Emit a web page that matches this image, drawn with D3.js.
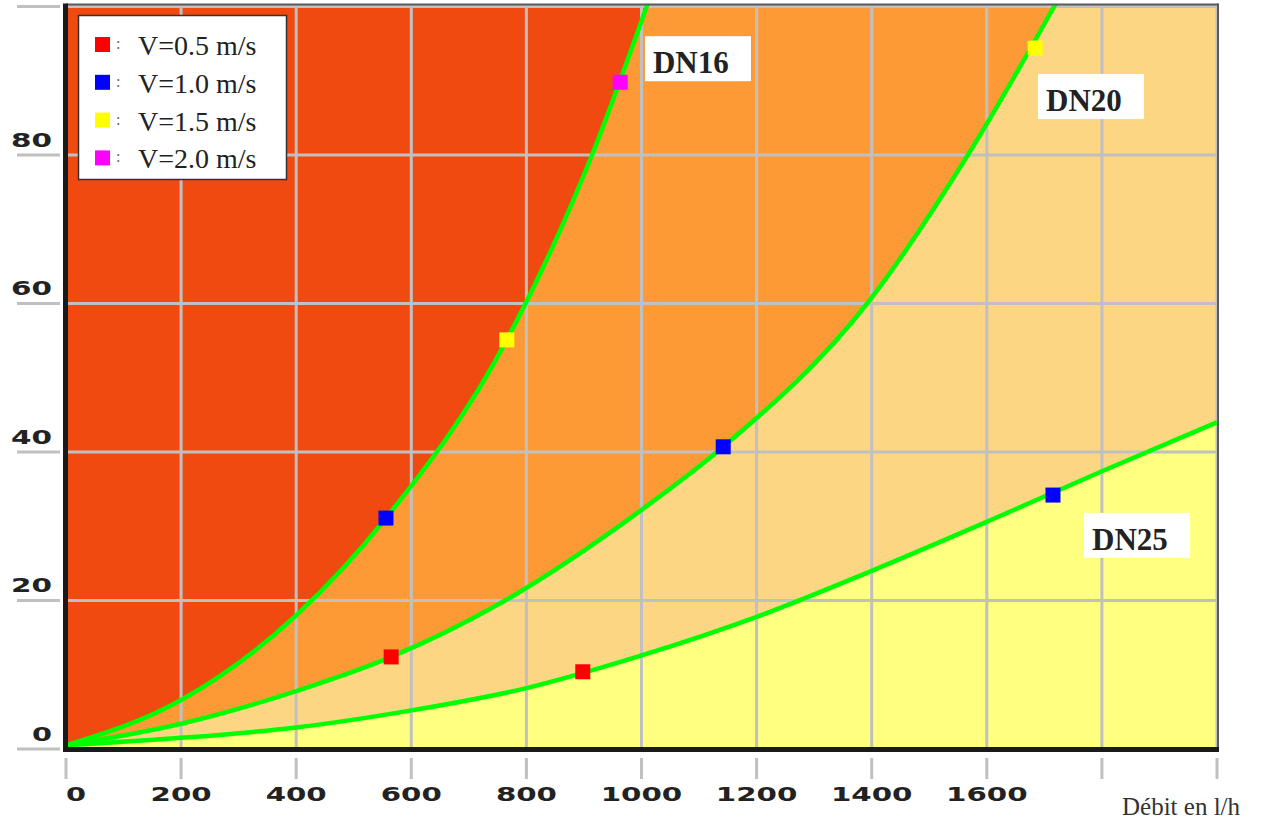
<!DOCTYPE html>
<html>
<head>
<meta charset="utf-8">
<script src="https://cdn.jsdelivr.net/npm/d3@7"></script>
<style>
  html, body { margin: 0; padding: 0; background: #ffffff; }
  svg { display: block; }
</style>
</head>
<body>
<svg id="chart" width="1261" height="825"></svg>
<script>
// ---------------- DATA ----------------
// Flow rate (l/h) and pressure drop readings along each pipe curve
const dn16Flow = [0, 200, 400, 556, 766, 914, 1009, 1020];
const dn16Drop = [0.5, 6.6, 18.0, 31.1, 55.1, 80, 100, 102.4];

const dn20Flow = [0, 200, 400, 565, 763, 1000, 1142, 1392, 1567, 1717, 1730];
const dn20Drop = [0.5, 3.4, 7.8, 12.4, 20, 32.2, 40.7, 60, 80, 100, 101.8];

const dn25Flow = [0, 200, 400, 600, 800, 1000, 1200, 1400, 1600, 1800, 2000];
const dn25Drop = [0.5, 1.5, 2.9, 5.2, 8.2, 12.6, 17.8, 24.0, 30.6, 37.4, 44.0];

const pipeNames = ["DN16", "DN20", "DN25"];

// Velocity legend
const velocityLabels = ["V=0.5 m/s", "V=1.0 m/s", "V=1.5 m/s", "V=2.0 m/s"];

// Velocity markers (velocity label, flow l/h, pressure drop)
const markerVelocity = ["V=0.5 m/s", "V=0.5 m/s", "V=1.0 m/s", "V=1.0 m/s", "V=1.0 m/s", "V=1.5 m/s", "V=1.5 m/s", "V=2.0 m/s"];
const markerFlow     = [565, 898, 556, 1142, 1715, 766, 1684, 963];
const markerDrop     = [12.4, 10.4, 31.1, 40.7, 34.2, 55.1, 94.4, 89.8];

// Axis ticks
const xTickValues = [0, 200, 400, 600, 800, 1000, 1200, 1400, 1600, 1800, 2000];
const xTickLabels = ["0", "200", "400", "600", "800", "1000", "1200", "1400", "1600", "", ""];
const yTickValues = [0, 20, 40, 60, 80, 100];
const yTickLabels = ["0", "20", "40", "60", "80", ""];
const xAxisTitle = "Débit en l/h";

// ---------------- STYLES ----------------
const velocityColors = ["#ff0000", "#0000ff", "#ffff00", "#ff00ff"];
const zoneColors = { above16: "#f04a10", above20: "#fd9a36", above25: "#fdd684", below25: "#ffff80" };
const gridColor = "#c0c0c0";
const curveColor = "#00ff00";

// ---------------- CHART ----------------
const svg = d3.select("#chart");
const x = d3.scaleLinear().domain([0, 2000]).range([66, 1217]);
const y = d3.scaleLinear().domain([0, 100]).range([749, 6.5]);
const colorV = d3.scaleOrdinal().domain(velocityLabels).range(velocityColors);

const plotLeft = x(0), plotRight = x(2000), plotTop = 5, plotBottom = 747;

const zip = (a, b) => a.map((v, i) => [v, b[i]]);
const dn16 = zip(dn16Flow, dn16Drop);
const dn20 = zip(dn20Flow, dn20Drop);
const dn25 = zip(dn25Flow, dn25Drop);

svg.append("defs").append("clipPath").attr("id", "plotClip")
  .append("rect")
  .attr("x", plotLeft).attr("y", plotTop)
  .attr("width", plotRight - plotLeft).attr("height", plotBottom - plotTop);

const plot = svg.append("g").attr("clip-path", "url(#plotClip)");

// background zone (below DN25)
plot.append("rect")
  .attr("x", plotLeft).attr("y", plotTop)
  .attr("width", plotRight - plotLeft).attr("height", plotBottom - plotTop)
  .attr("fill", zoneColors.below25);

const curveType = d3.curveMonotoneX;
const areaAbove = d3.area()
  .x(d => x(d[0]))
  .y0(plotTop - 5)
  .y1(d => y(d[1]))
  .curve(curveType);

plot.append("path").datum(dn25).attr("d", areaAbove).attr("fill", zoneColors.above25);
plot.append("path").datum(dn20).attr("d", areaAbove).attr("fill", zoneColors.above20);
plot.append("path").datum(dn16).attr("d", areaAbove).attr("fill", zoneColors.above16);

// grid
plot.selectAll("line.vgrid").data(xTickValues.filter(v => v > 0)).enter()
  .append("line").attr("class", "vgrid")
  .attr("x1", d => x(d)).attr("x2", d => x(d))
  .attr("y1", plotTop).attr("y2", plotBottom)
  .attr("stroke", gridColor).attr("stroke-width", 3);
plot.selectAll("line.hgrid").data(yTickValues.filter(v => v > 0)).enter()
  .append("line").attr("class", "hgrid")
  .attr("x1", plotLeft).attr("x2", plotRight)
  .attr("y1", d => y(d)).attr("y2", d => y(d))
  .attr("stroke", gridColor).attr("stroke-width", 3);

// curves
const line = d3.line().x(d => x(d[0])).y(d => y(d[1])).curve(curveType);
[dn16, dn20, dn25].forEach(c => {
  plot.append("path").datum(c).attr("d", line)
    .attr("fill", "none").attr("stroke", curveColor).attr("stroke-width", 4.5);
});

// markers
const ms = 15;
plot.selectAll("rect.marker").data(markerFlow.map((q, i) => ({ q, dp: markerDrop[i], v: markerVelocity[i] })))
  .enter().append("rect").attr("class", "marker")
  .attr("x", d => x(d.q) - ms / 2).attr("y", d => y(d.dp) - ms / 2)
  .attr("width", ms).attr("height", ms)
  .attr("fill", d => colorV(d.v));

// frame: top & right thin dark, left & bottom thick black
svg.append("line").attr("x1", plotLeft).attr("x2", plotRight + 1).attr("y1", 4.5).attr("y2", 4.5)
  .attr("stroke", "#5a5a5a").attr("stroke-width", 2);
svg.append("line").attr("x1", plotRight + 1).attr("x2", plotRight + 1).attr("y1", 3.5).attr("y2", 750)
  .attr("stroke", "#5a5a5a").attr("stroke-width", 2);
svg.append("line").attr("x1", 65.5).attr("x2", 65.5).attr("y1", 3.5).attr("y2", 752)
  .attr("stroke", "#1a1a1a").attr("stroke-width", 5);
svg.append("line").attr("x1", 63).attr("x2", plotRight + 2).attr("y1", 749.5).attr("y2", 749.5)
  .attr("stroke", "#1a1a1a").attr("stroke-width", 5);

// y axis ticks + labels
const gy = svg.append("g");
gy.selectAll("line").data(yTickValues).enter().append("line")
  .attr("x1", 17).attr("x2", 60)
  .attr("y1", d => y(d)).attr("y2", d => y(d))
  .attr("stroke", gridColor).attr("stroke-width", 3);
gy.selectAll("text").data(yTickValues.map((v, i) => ({ v, t: yTickLabels[i] })).filter(d => d.t !== ""))
  .enter().append("text")
  .attr("x", 52).attr("y", d => y(d.v) - 8.5)
  .attr("text-anchor", "end")
  .attr("font-family", "DejaVu Sans, sans-serif").attr("font-weight", "bold")
  .attr("font-size", 19).attr("fill", "#222")
  .attr("textLength", d => d.t.length * 21 - 1).attr("lengthAdjust", "spacingAndGlyphs")
  .text(d => d.t);

// x axis ticks + labels
const gx = svg.append("g");
gx.selectAll("line").data(xTickValues).enter().append("line")
  .attr("x1", d => x(d)).attr("x2", d => x(d))
  .attr("y1", 758).attr("y2", 779)
  .attr("stroke", gridColor).attr("stroke-width", 3);
gx.selectAll("text").data(xTickValues.map((v, i) => ({ v, t: xTickLabels[i] })).filter(d => d.t !== ""))
  .enter().append("text")
  .attr("x", d => x(d.v))
  .attr("y", 801)
  .attr("text-anchor", d => d.v === 0 ? "start" : "middle")
  .attr("font-family", "DejaVu Sans, sans-serif").attr("font-weight", "bold")
  .attr("font-size", 19).attr("fill", "#222")
  .attr("textLength", d => d.t.length * 20.5 - 0.5).attr("lengthAdjust", "spacingAndGlyphs")
  .text(d => d.t);

svg.append("text").attr("x", 1122).attr("y", 815)
  .attr("font-family", "Liberation Serif, serif").attr("font-size", 25)
  .attr("fill", "#333").text(xAxisTitle);

// DN labels
const dnAnchors = [[1006, 96.0], [1689, 90.9], [1769, 31.8]];
pipeNames.forEach((name, i) => {
  const bx = x(dnAnchors[i][0]), by = y(dnAnchors[i][1]);
  svg.append("rect").attr("x", bx).attr("y", by).attr("width", 106).attr("height", 45).attr("fill", "#ffffff");
  svg.append("text").attr("x", bx + 8).attr("y", by + 37)
    .attr("font-family", "Liberation Serif, serif").attr("font-weight", "bold")
    .attr("font-size", 31).attr("fill", "#222").text(name);
});

// legend
const lg = svg.append("g");
lg.append("rect").attr("x", 78.5).attr("y", 15.5).attr("width", 208).attr("height", 164)
  .attr("fill", "#ffffff").attr("stroke", "#333").attr("stroke-width", 1.5);
velocityLabels.forEach((lab, i) => {
  const cy = 44 + i * 37.8;
  lg.append("rect").attr("x", 95).attr("y", cy - 7).attr("width", 15).attr("height", 15).attr("fill", colorV(lab));
  lg.append("text").attr("x", 116).attr("y", cy + 5).attr("font-family", "Liberation Serif, serif")
    .attr("font-size", 16).attr("fill", "#666").text(":");
  lg.append("text").attr("x", 138).attr("y", cy + 11).attr("font-family", "Liberation Serif, serif")
    .attr("font-size", 28).attr("fill", "#222").text(lab);
});
</script>
</body>
</html>
